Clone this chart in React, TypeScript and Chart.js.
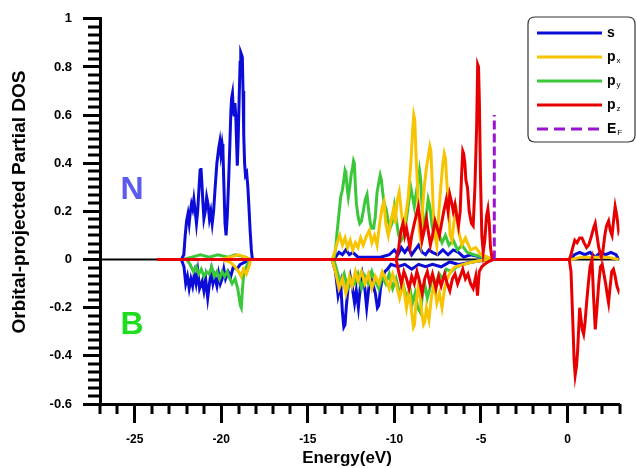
import React, { useEffect, useRef } from "react";
import { Chart, registerables } from "chart.js";

Chart.register(...registerables);

// ---------- data (energy in eV, DOS values) ----------
const xTickValues = [-25, -20, -15, -10, -5, 0];
const yTickValues = [-0.6, -0.4, -0.2, 0, 0.2, 0.4, 0.6, 0.8, 1];
const xRange = [-27, 3];
const yRange = [-0.6, 1];
const xMinorStep = 1;
const yMinorCount = 6;
const fermiEnergy = -4.23;
const fermiHeight = 0.6;

// s orbital, N (positive) and B (negative)
const sN: number[][] = [
  [-22.3, 0], [-22.16, 0.02], [-22.08, 0.1], [-22.0, 0.16], [-21.92, 0.19], [-21.85, 0.15], [-21.78, 0.2],
  [-21.72, 0.23], [-21.65, 0.21], [-21.58, 0.25], [-21.5, 0.2], [-21.43, 0.15], [-21.36, 0.2], [-21.28, 0.3],
  [-21.22, 0.37], [-21.17, 0.38], [-21.11, 0.31], [-21.06, 0.24], [-21.0, 0.17], [-20.92, 0.2], [-20.84, 0.26],
  [-20.76, 0.23], [-20.68, 0.17], [-20.6, 0.2], [-20.52, 0.15], [-20.44, 0.2], [-20.35, 0.3], [-20.25, 0.4],
  [-20.15, 0.46], [-20.08, 0.49], [-20.02, 0.44], [-19.95, 0.48], [-19.9, 0.45], [-19.85, 0.32], [-19.78, 0.15],
  [-19.72, 0.1], [-19.65, 0.18], [-19.57, 0.33], [-19.5, 0.48], [-19.44, 0.62], [-19.4, 0.67], [-19.35, 0.69],
  [-19.3, 0.62], [-19.26, 0.6], [-19.21, 0.65], [-19.16, 0.6], [-19.12, 0.5], [-19.07, 0.39], [-19.02, 0.5],
  [-18.96, 0.68], [-18.91, 0.82], [-18.87, 0.86], [-18.82, 0.85], [-18.78, 0.84], [-18.74, 0.7],
  [-18.7, 0.52], [-18.65, 0.4], [-18.6, 0.35], [-18.53, 0.36], [-18.46, 0.3], [-18.4, 0.22], [-18.33, 0.12],
  [-18.26, 0.04], [-18.2, 0],
  [-13.6, 0], [-13.4, 0.01], [-13.2, 0.03], [-13.0, 0.02], [-12.8, 0.04], [-12.6, 0.02], [-12.4, 0.03],
  [-12.1, 0.01], [-11.5, 0.01], [-10.8, 0.01], [-10.3, 0.02], [-10.0, 0.04], [-9.8, 0.02], [-9.6, 0.05],
  [-9.4, 0.03], [-9.2, 0.05], [-9.0, 0.02], [-8.8, 0.04], [-8.6, 0.06], [-8.4, 0.03], [-8.2, 0.02], [-8.0, 0.04],
  [-7.8, 0.03], [-7.5, 0.02], [-7.2, 0.04], [-6.9, 0.02], [-6.6, 0.04], [-6.3, 0.03], [-6.0, 0.01], [-5.6, 0.02],
  [-5.0, 0.01], [-4.5, 0],
  [0.2, 0], [0.4, 0.02], [0.7, 0.03], [1.0, 0.02], [1.3, 0.03], [1.6, 0.01], [1.9, 0.03], [2.2, 0.02],
  [2.5, 0.03], [2.8, 0.02], [2.95, 0],
];
const sB: number[][] = [
  [-22.3, 0], [-22.15, -0.03], [-22.05, -0.1], [-21.95, -0.07], [-21.85, -0.12], [-21.75, -0.08], [-21.65, -0.11],
  [-21.55, -0.06], [-21.45, -0.1], [-21.35, -0.05], [-21.25, -0.12], [-21.1, -0.09], [-21.0, -0.13],
  [-20.9, -0.08], [-20.78, -0.16], [-20.68, -0.1], [-20.58, -0.05], [-20.48, -0.1], [-20.38, -0.07],
  [-20.25, -0.11], [-20.15, -0.06], [-20.05, -0.1], [-19.95, -0.08], [-19.85, -0.04], [-19.75, -0.08],
  [-19.6, -0.05], [-19.45, -0.07], [-19.3, -0.03], [-19.1, -0.04], [-18.9, -0.02], [-18.6, -0.01], [-18.3, 0],
  [-13.6, 0], [-13.4, -0.05], [-13.25, -0.15], [-13.1, -0.1], [-13.0, -0.22], [-12.92, -0.28], [-12.85, -0.27],
  [-12.78, -0.2], [-12.68, -0.12], [-12.55, -0.07], [-12.42, -0.12], [-12.3, -0.18], [-12.2, -0.13],
  [-12.08, -0.2], [-11.95, -0.1], [-11.85, -0.06], [-11.72, -0.11], [-11.6, -0.2], [-11.48, -0.12],
  [-11.38, -0.07], [-11.25, -0.1], [-11.1, -0.14], [-10.98, -0.2], [-10.9, -0.19], [-10.8, -0.12],
  [-10.7, -0.08], [-10.55, -0.05], [-10.4, -0.04], [-10.2, -0.02], [-9.8, -0.03], [-9.4, -0.02], [-9.0, -0.04],
  [-8.6, -0.02], [-8.2, -0.03], [-7.8, -0.02], [-7.3, -0.03], [-6.8, -0.01], [-6.3, -0.02], [-5.5, -0.01],
  [-4.5, 0],
];

// px orbital
const pxN: number[][] = [
  [-20.0, 0], [-19.5, 0.01], [-19.0, 0.02], [-18.6, 0.01], [-18.3, 0],
  [-13.6, 0], [-13.45, 0.03], [-13.3, 0.07], [-13.15, 0.1], [-13.0, 0.06], [-12.85, 0.09], [-12.7, 0.05],
  [-12.55, 0.08], [-12.4, 0.04], [-12.25, 0.07], [-12.1, 0.05], [-11.95, 0.09], [-11.8, 0.06], [-11.6, 0.1],
  [-11.45, 0.12], [-11.3, 0.07], [-11.15, 0.1], [-11.0, 0.06], [-10.85, 0.15], [-10.7, 0.22], [-10.6, 0.24],
  [-10.5, 0.15], [-10.35, 0.1], [-10.2, 0.16], [-10.05, 0.21], [-9.95, 0.15], [-9.85, 0.24], [-9.72, 0.28],
  [-9.6, 0.2], [-9.45, 0.12], [-9.35, 0.18], [-9.2, 0.26], [-9.05, 0.4], [-8.95, 0.53], [-8.88, 0.6],
  [-8.82, 0.58], [-8.76, 0.45], [-8.66, 0.3], [-8.56, 0.12], [-8.48, 0.08], [-8.38, 0.2], [-8.28, 0.3],
  [-8.15, 0.38], [-8.02, 0.44], [-7.95, 0.47], [-7.89, 0.45], [-7.82, 0.33], [-7.75, 0.2], [-7.65, 0.1],
  [-7.55, 0.06], [-7.45, 0.18], [-7.32, 0.3], [-7.2, 0.4], [-7.12, 0.44], [-7.05, 0.42], [-6.98, 0.33],
  [-6.9, 0.25], [-6.78, 0.1], [-6.68, 0.08], [-6.55, 0.16], [-6.42, 0.2], [-6.3, 0.12], [-6.1, 0.06],
  [-5.9, 0.09], [-5.6, 0.04], [-5.3, 0.05], [-5.0, 0.02], [-4.6, 0.01], [-4.4, 0],
  [0.2, 0], [0.8, 0.01], [1.5, 0.01], [2.3, 0.01], [2.95, 0],
];
const pxB: number[][] = [
  [-20.0, 0], [-19.5, -0.01], [-19.2, -0.03], [-19.0, -0.05], [-18.85, -0.07], [-18.72, -0.04],
  [-18.55, -0.06], [-18.4, -0.03], [-18.3, 0],
  [-13.6, 0], [-13.4, -0.05], [-13.2, -0.12], [-13.0, -0.08], [-12.8, -0.14], [-12.6, -0.07], [-12.45, -0.11],
  [-12.25, -0.05], [-12.1, -0.09], [-11.9, -0.05], [-11.7, -0.1], [-11.5, -0.06], [-11.3, -0.12],
  [-11.1, -0.07], [-10.9, -0.1], [-10.7, -0.05], [-10.5, -0.08], [-10.3, -0.12], [-10.1, -0.06],
  [-9.9, -0.1], [-9.7, -0.16], [-9.5, -0.1], [-9.3, -0.2], [-9.15, -0.13], [-9.0, -0.22], [-8.9, -0.28],
  [-8.84, -0.27], [-8.75, -0.18], [-8.6, -0.1], [-8.45, -0.2], [-8.32, -0.27], [-8.25, -0.26], [-8.15, -0.2],
  [-8.0, -0.25], [-7.85, -0.15], [-7.7, -0.1], [-7.55, -0.18], [-7.4, -0.14], [-7.25, -0.2], [-7.1, -0.12],
  [-6.95, -0.08], [-6.75, -0.05], [-6.5, -0.03], [-6.0, -0.02], [-5.5, -0.01], [-4.6, 0],
];

// py orbital
const pyN: number[][] = [
  [-22.2, 0], [-21.7, 0.01], [-21.2, 0.02], [-20.7, 0.01], [-20.2, 0.02], [-19.6, 0.01], [-19.2, 0.02],
  [-18.6, 0.01], [-18.3, 0],
  [-13.5, 0], [-13.4, 0.04], [-13.3, 0.12], [-13.2, 0.19], [-13.1, 0.26], [-13.0, 0.29], [-12.92, 0.33],
  [-12.85, 0.37], [-12.8, 0.36], [-12.73, 0.3], [-12.66, 0.26], [-12.58, 0.3], [-12.5, 0.35], [-12.42, 0.38],
  [-12.36, 0.41], [-12.31, 0.4], [-12.25, 0.3], [-12.19, 0.23], [-12.1, 0.18], [-12.0, 0.15], [-11.9, 0.16],
  [-11.8, 0.2], [-11.68, 0.25], [-11.58, 0.27], [-11.48, 0.2], [-11.39, 0.15], [-11.3, 0.13], [-11.2, 0.13],
  [-11.1, 0.18], [-11.0, 0.28], [-10.9, 0.32], [-10.82, 0.35], [-10.75, 0.33], [-10.66, 0.27],
  [-10.58, 0.23], [-10.48, 0.21], [-10.38, 0.17], [-10.25, 0.13], [-10.1, 0.16], [-10.0, 0.22], [-9.9, 0.17],
  [-9.75, 0.1], [-9.6, 0.08], [-9.45, 0.1], [-9.3, 0.17], [-9.15, 0.25], [-9.05, 0.3], [-8.95, 0.26],
  [-8.85, 0.22], [-8.75, 0.27], [-8.62, 0.33], [-8.55, 0.37], [-8.48, 0.33], [-8.4, 0.22], [-8.3, 0.14],
  [-8.18, 0.17], [-8.05, 0.25], [-7.95, 0.22], [-7.82, 0.14], [-7.7, 0.1], [-7.55, 0.13], [-7.4, 0.1],
  [-7.25, 0.07], [-7.05, 0.1], [-6.85, 0.06], [-6.6, 0.08], [-6.35, 0.04], [-6.1, 0.06], [-5.8, 0.03],
  [-5.4, 0.02], [-4.9, 0.01], [-4.5, 0],
];
const pyB: number[][] = [
  [-22.0, 0], [-21.8, -0.02], [-21.6, -0.05], [-21.45, -0.03], [-21.3, -0.06], [-21.15, -0.04], [-21.0, -0.07],
  [-20.85, -0.05], [-20.7, -0.06], [-20.55, -0.03], [-20.4, -0.07], [-20.25, -0.05], [-20.1, -0.08],
  [-19.95, -0.05], [-19.8, -0.07], [-19.65, -0.05], [-19.5, -0.08], [-19.37, -0.1], [-19.2, -0.08],
  [-19.05, -0.12], [-18.98, -0.15], [-18.9, -0.19], [-18.84, -0.2], [-18.77, -0.12], [-18.7, -0.06],
  [-18.55, -0.03], [-18.35, 0],
  [-13.5, 0], [-13.3, -0.05], [-13.1, -0.1], [-12.9, -0.06], [-12.7, -0.12], [-12.5, -0.08], [-12.3, -0.1],
  [-12.1, -0.06], [-11.9, -0.12], [-11.7, -0.07], [-11.5, -0.1], [-11.3, -0.05], [-11.1, -0.09],
  [-10.9, -0.12], [-10.7, -0.07], [-10.5, -0.1], [-10.3, -0.06], [-10.1, -0.12], [-9.9, -0.08], [-9.7, -0.14],
  [-9.5, -0.1], [-9.3, -0.16], [-9.1, -0.12], [-8.95, -0.18], [-8.8, -0.14], [-8.65, -0.2], [-8.5, -0.22],
  [-8.38, -0.15], [-8.25, -0.1], [-8.1, -0.16], [-7.95, -0.12], [-7.8, -0.07], [-7.6, -0.1], [-7.4, -0.06],
  [-7.2, -0.08], [-7.0, -0.04], [-6.7, -0.05], [-6.4, -0.03], [-6.0, -0.02], [-5.5, -0.01], [-4.8, 0],
];

// pz orbital
const pzN: number[][] = [
  [-23.7, 0], [-9.9, 0], [-9.75, 0.05], [-9.62, 0.12], [-9.5, 0.15], [-9.4, 0.1], [-9.3, 0.13], [-9.2, 0.09],
  [-9.1, 0.05], [-9.0, 0.1], [-8.88, 0.14], [-8.75, 0.18], [-8.62, 0.22], [-8.5, 0.15], [-8.4, 0.08],
  [-8.28, 0.12], [-8.15, 0.17], [-8.05, 0.12], [-7.92, 0.06], [-7.8, 0.1], [-7.65, 0.16], [-7.52, 0.13],
  [-7.4, 0.1], [-7.3, 0.14], [-7.15, 0.2], [-7.0, 0.25], [-6.9, 0.2], [-6.8, 0.27], [-6.7, 0.24], [-6.6, 0.2],
  [-6.5, 0.23], [-6.4, 0.18], [-6.3, 0.14], [-6.2, 0.2], [-6.12, 0.35], [-6.05, 0.45], [-6.0, 0.44],
  [-5.93, 0.4], [-5.87, 0.33], [-5.78, 0.3], [-5.68, 0.2], [-5.55, 0.15], [-5.45, 0.14], [-5.35, 0.3],
  [-5.25, 0.55], [-5.19, 0.81], [-5.14, 0.8], [-5.09, 0.65], [-5.03, 0.35], [-4.95, 0.1], [-4.87, 0.03],
  [-4.78, 0.08], [-4.68, 0.18], [-4.6, 0.21], [-4.52, 0.15], [-4.45, 0.05], [-4.35, 0],
  [0.1, 0], [0.2, 0.02], [0.3, 0.05], [0.42, 0.08], [0.55, 0.07], [0.7, 0.09], [0.83, 0.09], [0.95, 0.07],
  [1.1, 0.05], [1.22, 0.06], [1.35, 0.09], [1.5, 0.13], [1.6, 0.15], [1.7, 0.1], [1.8, 0.05], [1.95, 0.01],
  [2.05, 0.04], [2.15, 0.1], [2.25, 0.14], [2.37, 0.16], [2.47, 0.12], [2.57, 0.1], [2.67, 0.17],
  [2.75, 0.22], [2.85, 0.18], [2.95, 0.12], [3.0, 0.13],
];
const pzB: number[][] = [
  [-23.7, 0], [-9.9, 0], [-9.75, -0.05], [-9.6, -0.1], [-9.45, -0.05], [-9.3, -0.08], [-9.15, -0.12],
  [-9.0, -0.07], [-8.85, -0.1], [-8.7, -0.05], [-8.55, -0.09], [-8.4, -0.14], [-8.25, -0.08], [-8.1, -0.05],
  [-7.95, -0.1], [-7.8, -0.06], [-7.6, -0.12], [-7.45, -0.07], [-7.3, -0.11], [-7.1, -0.06], [-6.95, -0.1],
  [-6.8, -0.13], [-6.65, -0.08], [-6.5, -0.06], [-6.35, -0.1], [-6.2, -0.07], [-6.05, -0.04], [-5.9, -0.08],
  [-5.75, -0.06], [-5.6, -0.1], [-5.45, -0.12], [-5.3, -0.07], [-5.2, -0.15], [-5.1, -0.05], [-4.95, -0.03],
  [-4.8, -0.02], [-4.6, -0.01], [-4.3, 0],
  [0.1, 0], [0.2, -0.05], [0.31, -0.27], [0.38, -0.42], [0.44, -0.48], [0.52, -0.44], [0.58, -0.38],
  [0.65, -0.28], [0.7, -0.2], [0.78, -0.25], [0.85, -0.29], [0.93, -0.31], [1.0, -0.27], [1.1, -0.18],
  [1.2, -0.1], [1.3, -0.03], [1.41, 0.0], [1.5, -0.15], [1.6, -0.29], [1.7, -0.2], [1.8, -0.1], [1.9, -0.03],
  [2.0, -0.02], [2.1, -0.06], [2.2, -0.1], [2.3, -0.15], [2.37, -0.18], [2.45, -0.12], [2.55, -0.05],
  [2.65, -0.04], [2.75, -0.07], [2.85, -0.11], [2.95, -0.13], [3.0, -0.12],
];

const zeroLine: number[][] = [[-27, 0], [3, 0]];
const fermiLine: number[][] = [[fermiEnergy, 0], [fermiEnergy, fermiHeight]];

const legendLabels = [
  { main: "s", sub: "" },
  { main: "p", sub: "x" },
  { main: "p", sub: "y" },
  { main: "p", sub: "z" },
  { main: "E", sub: "F" },
];

// ---------- styles ----------
const COLORS = {
  s: "#0c0cd8",
  px: "#f8c400",
  py: "#3ac83a",
  pz: "#e80000",
  ef: "#9a14d0",
};
const FONT = "'Liberation Sans', Arial, sans-serif";

const toPts = (arr: number[][]) => arr.map(([x, y]) => ({ x, y }));

export default function App() {
  const ref = useRef<HTMLCanvasElement | null>(null);

  useEffect(() => {
    document.body.style.margin = "0";
    const canvas = ref.current;
    if (!canvas) return;

    const line = (data: number[][], color: string, extra: any = {}) => ({
      data: toPts(data),
      borderColor: color,
      backgroundColor: color,
      borderWidth: 3,
      pointRadius: 0,
      tension: 0,
      fill: false,
      ...extra,
    });

    const extras = {
      id: "extras",
      afterDraw(chart: any) {
        const ctx = chart.ctx;
        const xs = chart.scales.x;
        const ys = chart.scales.y;
        const area = chart.chartArea;
        ctx.save();
        // minor ticks
        ctx.strokeStyle = "#000";
        ctx.lineWidth = 3;
        for (let v = xRange[0]; v <= xRange[1] + 1e-9; v += xMinorStep) {
          if (xTickValues.includes(v)) continue;
          const px = Math.round(xs.getPixelForValue(v));
          ctx.beginPath();
          ctx.moveTo(px, area.bottom);
          ctx.lineTo(px, area.bottom + 10);
          ctx.stroke();
        }
        for (let i = 0; i < yTickValues.length - 1; i++) {
          const a = yTickValues[i];
          const b = yTickValues[i + 1];
          for (let k = 1; k < yMinorCount; k++) {
            const v = a + ((b - a) * k) / yMinorCount;
            const py = Math.round(ys.getPixelForValue(v));
            ctx.beginPath();
            ctx.moveTo(area.left, py);
            ctx.lineTo(area.left - 12, py);
            ctx.stroke();
          }
        }

        // axis titles
        ctx.fillStyle = "#000";
        ctx.font = `bold 17px ${FONT}`;
        ctx.textAlign = "center";
        ctx.textBaseline = "middle";
        ctx.fillText("Energy(eV)", 347, 458);
        ctx.save();
        ctx.translate(20, 202);
        ctx.rotate(-Math.PI / 2);
        ctx.font = `bold 19px ${FONT}`;
        ctx.fillText("Orbital-projected Partial DOS", 0, 0);
        ctx.restore();

        // N / B labels
        ctx.font = `bold 32px ${FONT}`;
        ctx.fillStyle = "#5b5bee";
        ctx.fillText("N", 132, 190);
        ctx.fillStyle = "#1edc1e";
        ctx.fillText("B", 132, 325);

        // legend
        const lx = 528, ly = 17, lw = 107, lh = 125, r = 7;
        ctx.beginPath();
        ctx.moveTo(lx + r, ly);
        ctx.lineTo(lx + lw - r, ly);
        ctx.quadraticCurveTo(lx + lw, ly, lx + lw, ly + r);
        ctx.lineTo(lx + lw, ly + lh - r);
        ctx.quadraticCurveTo(lx + lw, ly + lh, lx + lw - r, ly + lh);
        ctx.lineTo(lx + r, ly + lh);
        ctx.quadraticCurveTo(lx, ly + lh, lx, ly + lh - r);
        ctx.lineTo(lx, ly + r);
        ctx.quadraticCurveTo(lx, ly, lx + r, ly);
        ctx.closePath();
        ctx.fillStyle = "#fff";
        ctx.fill();
        ctx.strokeStyle = "#333";
        ctx.lineWidth = 1.2;
        ctx.stroke();
        const lcolors = [COLORS.s, COLORS.px, COLORS.py, COLORS.pz, COLORS.ef];
        legendLabels.forEach((lab, i) => {
          const y = 33 + i * 24;
          ctx.beginPath();
          ctx.strokeStyle = lcolors[i];
          ctx.lineWidth = 3;
          ctx.setLineDash(i === 4 ? [11, 6] : []);
          ctx.moveTo(537, y);
          ctx.lineTo(602, y);
          ctx.stroke();
          ctx.setLineDash([]);
          ctx.fillStyle = "#000";
          ctx.textAlign = "left";
          ctx.textBaseline = "middle";
          ctx.font = `bold 14px ${FONT}`;
          ctx.fillText(lab.main, 607, y);
          if (lab.sub) {
            const w = ctx.measureText(lab.main).width;
            ctx.font = `8px ${FONT}`;
            ctx.fillText(lab.sub, 607 + w + 1, y + 4);
          }
        });
        ctx.restore();
      },
    };

    const chart = new Chart(canvas, {
      type: "line",
      data: {
        datasets: [
          line(fermiLine, COLORS.ef, { borderDash: [9, 4] }),
          line(pzN, COLORS.pz),
          line(pzB, COLORS.pz),
          line(pxN, COLORS.px),
          line(pxB, COLORS.px),
          line(pyN, COLORS.py),
          line(pyB, COLORS.py),
          line(sN, COLORS.s),
          line(sB, COLORS.s),
          line(zeroLine, "#000", { borderWidth: 2 }),
        ],
      },
      options: {
        responsive: false,
        animation: false,
        devicePixelRatio: 1,
        parsing: false,
        normalized: true,
        layout: { padding: { left: 0, right: 17.5, top: 15, bottom: 0 } },
        plugins: {
          legend: { display: false },
          tooltip: { enabled: false },
          title: { display: false },
        },
        scales: {
          x: {
            type: "linear",
            min: xRange[0],
            max: xRange[1],
            afterBuildTicks: (scale: any) => {
              scale.ticks = xTickValues.map((v) => ({ value: v }));
            },
            afterFit: (scale: any) => {
              scale.height = 64;
            },
            ticks: {
              autoSkip: false,
              maxRotation: 0,
              padding: 9,
              color: "#000",
              font: { family: FONT, size: 12, weight: "bold" },
              callback: (v: any) => String(v),
            },
            grid: {
              drawOnChartArea: false,
              drawTicks: true,
              tickLength: 19,
              tickWidth: 3,
              tickColor: "#000",
            },
            border: { display: true, color: "#000", width: 3 },
          },
          y: {
            type: "linear",
            min: yRange[0],
            max: yRange[1],
            afterBuildTicks: (scale: any) => {
              scale.ticks = yTickValues.map((v) => ({ value: v }));
            },
            afterFit: (scale: any) => {
              scale.width = 100;
            },
            ticks: {
              autoSkip: false,
              padding: 11,
              color: "#000",
              font: { family: FONT, size: 13, weight: "bold" },
              callback: (v: any) => String(Math.round(v * 10) / 10),
            },
            grid: {
              drawOnChartArea: false,
              drawTicks: true,
              tickLength: 17,
              tickWidth: 3,
              tickColor: "#000",
            },
            border: { display: true, color: "#000", width: 3 },
          },
        },
      },
      plugins: [extras],
    } as any);

    return () => chart.destroy();
  }, []);

  return (
    <div style={{ width: 637, height: 468, background: "#fff" }}>
      <canvas ref={ref} width={637} height={468} />
    </div>
  );
}
